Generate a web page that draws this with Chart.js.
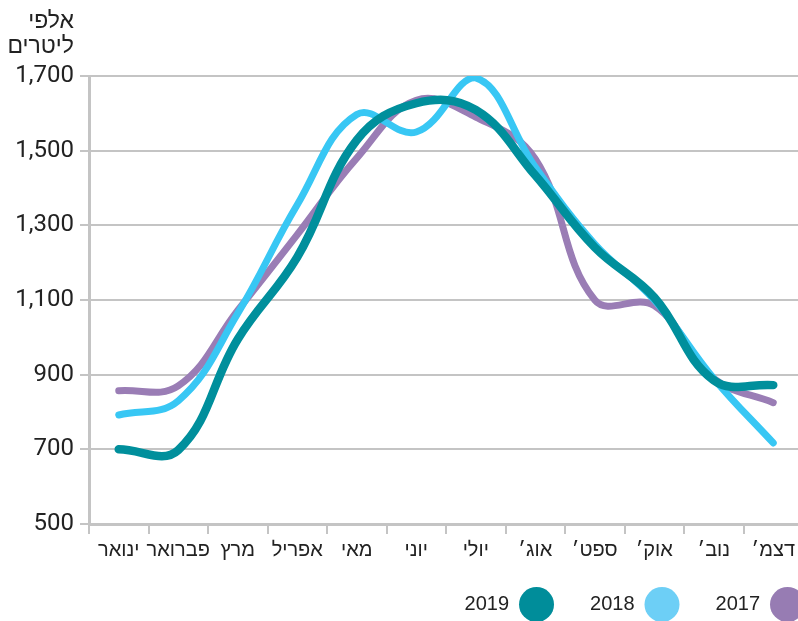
<!DOCTYPE html>
<html lang="he">
<head>
<meta charset="utf-8">
<title>צריכת מים חודשית</title>
<script src="https://cdn.jsdelivr.net/npm/chart.js@4.4.1/dist/chart.umd.min.js"></script>
<style>
  html, body { margin: 0; padding: 0; background: #fff; overflow: hidden; }
  #wrap { width: 812px; height: 621px; }
</style>
</head>
<body>
<div id="wrap"><canvas id="chart"></canvas></div>
<script>
const months = ["ינואר", "פברואר", "מרץ", "אפריל", "מאי", "יוני", "יולי", "אוג׳", "ספט׳", "אוק׳", "נוב׳", "דצמ׳"];
const years = ["2017", "2018", "2019"];
const values2017 = [857, 870, 1072, 1275, 1480, 1635, 1590, 1478, 1100, 1085, 890, 825];
const values2018 = [792, 830, 1064, 1355, 1597, 1550, 1695, 1456, 1250, 1100, 890, 717];
const values2019 = [700, 698, 995, 1215, 1528, 1627, 1609, 1434, 1241, 1107, 885, 872];
const yTicks = [500, 700, 900, 1100, 1300, 1500, 1700];
const unitLines = ["אלפי", "ליטרים"];

const lineColors = ["#9a7db5", "#38c7f4", "#008f9c"];
const legendColors = ["#977cb3", "#6dcff6", "#008d9a"];
const lineWidths = [7, 7, 8.5];

// unit label above the y axis
const unitLabel = {
  id: "unitLabel",
  afterDraw(chart) {
    const ctx = chart.ctx;
    ctx.save();
    ctx.font = "23px 'Liberation Sans', sans-serif";
    ctx.fillStyle = "#222";
    ctx.textAlign = "right";
    ctx.textBaseline = "middle";
    ctx.fillText(unitLines[0], 74, 22);
    ctx.fillText(unitLines[1], 74, 47);
    ctx.restore();
  }
};

// push the legend to the bottom right corner, like the original
const legendPlace = {
  id: "legendPlace",
  afterLayout(chart) {
    const lg = chart.legend;
    lg.left += 38;
    lg.right += 38;
    lg.top = 551;
    lg.bottom = 640;
  }
};

const series = [values2017, values2018, values2019];

new Chart(document.getElementById("chart"), {
  type: "line",
  data: {
    labels: months,
    datasets: series.map((vals, i) => ({
      label: years[i],
      data: vals,
      borderColor: lineColors[i],
      backgroundColor: legendColors[i],
      borderWidth: lineWidths[i],
      borderCapStyle: "round",
      pointRadius: 0,
      tension: 0.4,
      fill: false,
      order: 3 - i
    }))
  },
  options: {
    responsive: true,
    maintainAspectRatio: false,
    animation: false,
    layout: { padding: { top: 76, right: 9, left: 0, bottom: 0 } },
    scales: {
      x: {
        offset: true,
        grid: {
          offset: true,
          drawOnChartArea: false,
          tickLength: 10,
          color: "#c4c4c4",
          lineWidth: 2
        },
        border: { display: true, color: "#c4c4c4", width: 3 },
        ticks: {
          color: "#222",
          padding: 4,
          maxRotation: 0,
          autoSkip: false,
          font: { family: "'Liberation Sans', sans-serif", size: 20 }
        }
      },
      y: {
        min: 500,
        max: 1700,
        afterFit(scale) { scale.width = 89; },
        afterBuildTicks(scale) { scale.ticks = yTicks.map(v => ({ value: v })); },
        grid: { color: "#c4c4c4", lineWidth: 2, tickLength: 9 },
        border: { display: true, color: "#c4c4c4", width: 3 },
        ticks: {
          color: "#222",
          padding: 6,
          font: { family: "Roboto, sans-serif", size: 24 },
          callback: v => v.toLocaleString("en-US")
        }
      }
    },
    plugins: {
      tooltip: { enabled: false },
      legend: {
        position: "bottom",
        align: "start",
        rtl: true,
        maxHeight: 55,
        labels: {
          color: "#222",
          font: { family: "'Liberation Sans', sans-serif", size: 20 },
          boxWidth: 35,
          boxHeight: 35,
          useBorderRadius: true,
          borderRadius: 17.5,
          padding: 36,
          sort: (a, b) => a.datasetIndex - b.datasetIndex,
          generateLabels(chart) {
            return Chart.defaults.plugins.legend.labels.generateLabels(chart).map(item => {
              item.fillStyle = legendColors[item.datasetIndex];
              item.strokeStyle = legendColors[item.datasetIndex];
              item.lineWidth = 0;
              return item;
            });
          }
        }
      }
    }
  },
  plugins: [unitLabel, legendPlace]
});
</script>
</body>
</html>
